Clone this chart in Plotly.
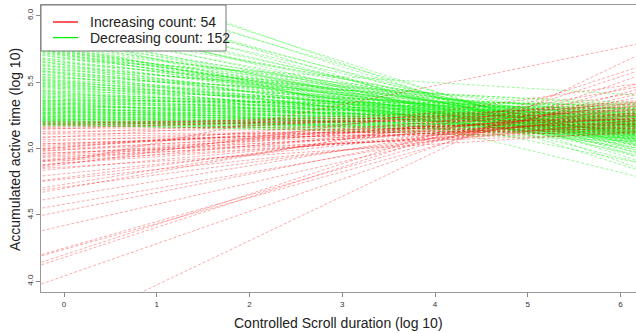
import plotly.graph_objects as go
import numpy as np

# Red (increasing) lines: fitted value at x=0 and at x=6
red_y0 = [4.90, 3.64, 4.20, 4.18, 4.04, 4.25, 4.24, 4.42, 4.53, 4.58,
          4.64, 4.71, 4.73, 4.77, 4.78, 4.85, 4.89, 4.89, 4.92, 4.92,
          4.94, 4.96, 4.99, 5.03, 4.88, 4.70, 4.97, 5.07, 5.00, 5.09,
          5.02, 5.11, 5.04, 5.12, 5.13, 5.06, 5.15, 5.16, 4.95, 5.17,
          5.18, 5.19, 5.20, 5.01, 5.01, 4.97, 4.91, 4.86, 4.93, 5.04,
          5.09, 5.15, 4.99, 4.81]
red_y6 = [5.76, 5.64, 5.57, 5.54, 5.50, 5.45, 5.41, 5.38, 5.36, 5.30,
          5.33, 5.26, 5.40, 5.20, 5.32, 5.23, 5.28, 5.18, 5.31, 5.22,
          5.14, 5.26, 5.18, 5.22, 5.47, 5.44, 5.17, 5.12, 5.20, 5.15,
          5.24, 5.13, 5.19, 5.28, 5.16, 5.22, 5.18, 5.25, 5.20, 5.31,
          5.22, 5.26, 5.21, 5.35, 5.29, 5.11, 5.16, 5.12, 5.34, 5.15,
          5.33, 5.29, 5.25, 5.24]

# Green (decreasing) lines: fitted value at x=0 and at x=6
green_y0 = [6.38, 6.33, 6.28, 6.24, 6.20, 6.16, 6.12, 6.09, 6.05, 6.02, 6.00, 5.97,
            5.95, 5.93, 5.91, 5.90, 5.88, 5.86, 5.84, 5.83, 5.82, 5.80, 5.79, 5.78, 5.77,
            5.76, 5.75, 5.74, 5.74, 5.73, 5.73, 5.72, 5.72, 5.71, 5.71, 5.70, 5.70,
            5.69, 5.68, 5.68, 5.67, 5.66, 5.65, 5.65, 5.64, 5.63, 5.63,
            5.62, 5.61, 5.61, 5.60, 5.59, 5.59, 5.58, 5.57, 5.57, 5.56,
            5.56, 5.55, 5.54, 5.54, 5.53, 5.53, 5.52, 5.51, 5.51, 5.50,
            5.50, 5.49, 5.49, 5.48, 5.48, 5.47, 5.47, 5.46, 5.46, 5.45,
            5.45, 5.44, 5.43, 5.43, 5.42, 5.42, 5.41, 5.41, 5.40, 5.40,
            5.39, 5.39, 5.38, 5.38, 5.37, 5.37, 5.36, 5.36, 5.35, 5.35,
            5.34, 5.34, 5.34, 5.33, 5.33, 5.32, 5.32, 5.31, 5.31, 5.30,
            5.30, 5.30, 5.29, 5.29, 5.28, 5.28, 5.27, 5.27, 5.27, 5.26,
            5.26, 5.25, 5.25, 5.25, 5.24, 5.24, 5.23, 5.23, 5.23, 5.22,
            5.22, 5.22, 5.21, 5.21, 5.21, 5.20, 5.20, 5.20, 5.19, 5.19,
            5.19, 5.18, 5.18, 5.18, 5.17, 5.17, 5.36, 5.31, 5.28, 5.24,
            5.26, 5.29, 5.33, 5.22, 5.20]
green_y6 = [4.90, 4.98, 4.95, 5.02, 4.88, 5.00, 5.05, 4.97, 5.08, 5.03, 4.93, 5.10,
            5.06, 5.12, 5.00, 5.15, 5.09, 4.98, 4.82, 5.11, 5.05, 5.18, 5.08, 5.14, 4.92,
            5.20, 5.03, 5.12, 5.25, 5.07, 5.16, 5.10, 5.22, 5.01, 5.13, 5.19, 5.06,
            5.12, 5.20, 5.05, 5.41, 5.15, 5.24, 5.09, 5.30, 5.18, 5.02,
            5.22, 5.13, 5.27, 5.08, 5.19, 5.33, 5.11, 5.25, 5.16, 5.04,
            5.21, 5.29, 5.14, 5.07, 5.23, 5.35, 5.17, 5.10, 5.26, 5.20,
            5.13, 5.31, 5.06, 5.22, 5.18, 5.28, 5.12, 5.24, 5.15, 5.09,
            5.27, 5.19, 5.32, 5.14, 5.21, 5.08, 5.25, 5.17, 5.30, 5.11,
            5.20, 5.28, 5.15, 5.25, 5.30, 5.12, 5.22, 5.33, 5.18, 5.27,
            5.10, 5.24, 5.31, 5.19, 5.14, 5.26, 5.21, 5.29, 5.08, 5.23,
            5.17, 5.27, 5.13, 5.25, 5.20, 5.11, 5.24, 5.18, 5.26, 5.15,
            5.22, 5.09, 5.20, 5.24, 5.16, 5.21, 5.13, 5.19, 5.22, 5.11,
            5.17, 5.20, 5.14, 5.18, 5.06, 5.16, 5.12, 5.18, 5.10, 5.15,
            5.17, 5.08, 5.13, 5.16, 5.11, 5.14, 5.34, 5.28, 5.24, 5.21,
            5.23, 5.26, 5.30, 5.19, 5.17]

x_ticks = [0, 1, 2, 3, 4, 5, 6]
y_ticks = [4.0, 4.5, 5.0, 5.5, 6.0]
y_tick_labels = ["4.0", "4.5", "5.0", "5.5", "6.0"]
legend_labels = [f"Increasing count: {len(red_y0)}", f"Decreasing count: {len(green_y0)}"]
legend_colors = ["#ff0000", "#00ee00"]

W, H = 636, 333
L, R, T, B = 41, 0, 5, 41
PW, PH = W - L - R, H - T - B

def px(xp):
    return (xp - L) / PW

def py(yp):
    return (H - B - yp) / PH

x_span = np.array([-0.5, 6.5])

fig = go.Figure()

def add_lines(y0s, y6s, color):
    for a, b in zip(y0s, y6s):
        slope = (b - a) / 6.0
        fig.add_trace(go.Scatter(
            x=x_span, y=a + slope * x_span, mode="lines",
            line=dict(color=color, width=1, dash="3px,2px"),
            showlegend=False, hoverinfo="skip"))

add_lines(green_y0, green_y6, "rgba(0,245,0,0.40)")
add_lines(red_y0, red_y6, "rgba(255,0,0,0.34)")

# legend box drawn in paper coordinates
shapes = [dict(type="rect", xref="paper", yref="paper",
               x0=px(41), x1=px(226), y0=py(51), y1=py(5),
               fillcolor="white", line=dict(color="#777", width=1), layer="above")]
annotations = []
for i, (lab, col) in enumerate(zip(legend_labels, legend_colors)):
    yrow = 22 + i * 15.6
    shapes.append(dict(type="line", xref="paper", yref="paper",
                       x0=px(53), x1=px(78), y0=py(yrow), y1=py(yrow),
                       line=dict(color=col, width=1.3), layer="above"))
    annotations.append(dict(text=lab, xref="paper", yref="paper",
                            x=px(88), y=py(yrow), xanchor="left", yanchor="middle",
                            showarrow=False, font=dict(size=14, color="#222")))

annotations.append(dict(text="Controlled Scroll duration (log 10)", xref="paper", yref="paper",
                        x=0.5, y=py(323), xanchor="center", yanchor="middle",
                        showarrow=False, font=dict(size=14, color="#222")))
annotations.append(dict(text="Accumulated active time (log 10)", xref="paper", yref="paper",
                        x=px(15), y=py(150), xanchor="center", yanchor="middle",
                        textangle=-90, showarrow=False, font=dict(size=14, color="#222")))

fig.update_layout(
    width=W, height=H,
    margin=dict(l=L, r=R, t=T, b=B),
    paper_bgcolor="white", plot_bgcolor="white",
    font=dict(family="Liberation Sans, Arial, sans-serif", color="#222"),
    showlegend=False,
    shapes=shapes, annotations=annotations,
    xaxis=dict(range=[-0.248, 6.167], tickvals=x_ticks, ticks="outside",
               ticklen=4, tickcolor="#888", tickfont=dict(size=8, color="#333"),
               showline=True, linecolor="#999", mirror=True, showgrid=False,
               zeroline=False, automargin=False),
    yaxis=dict(range=[3.92, 6.08], tickvals=y_ticks, ticktext=y_tick_labels,
               ticks="outside", ticklen=4, tickcolor="#888",
               tickfont=dict(size=8, color="#333"), tickangle=-90,
               showline=True, linecolor="#999", showgrid=False, zeroline=False,
               automargin=False),
)

fig.write_html("out.html", config={"displayModeBar": False},
               post_script="document.body.style.margin='0';document.body.style.overflow='hidden';")
